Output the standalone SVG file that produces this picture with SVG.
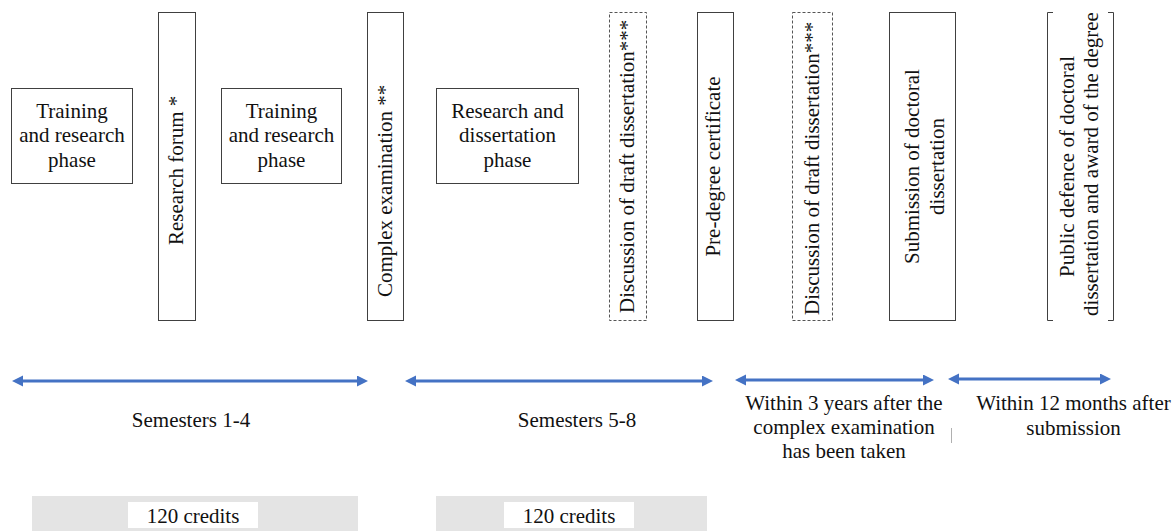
<svg xmlns="http://www.w3.org/2000/svg" width="1174" height="531" viewBox="0 0 1174 531">
  <style>
    .t { font-family: "Liberation Serif", "Times New Roman", serif; font-size: 21px; fill: #111; }
    .box { fill: #fff; stroke: #404040; stroke-width: 1; }
    .dbox { fill: #fff; stroke: #555; stroke-width: 1; stroke-dasharray: 3 2; }
    .brk { fill: none; stroke: #404040; stroke-width: 1; }
    .arr { stroke: #4472C4; stroke-width: 3; fill: none; marker-start: url(#ah); marker-end: url(#ah); }
    .band { fill: #e4e4e4; }
    .lbl { fill: #fff; }
  </style>
  <defs>
    <marker id="ah" markerUnits="userSpaceOnUse" markerWidth="12" markerHeight="12" refX="3" refY="5.5" orient="auto-start-reverse">
      <path d="M0,0 L11,5.5 L0,11 z" fill="#4472C4"/>
    </marker>
  </defs>

  <g id="n1">
    <rect class="box" x="11.5" y="88.5" width="121" height="95"/>
    <text class="t" text-anchor="middle"><tspan x="72" y="118">Training</tspan><tspan x="72" y="142">and research</tspan><tspan x="72" y="167">phase</tspan></text>
  </g>
  <g id="n2">
    <rect class="box" x="158.5" y="12.5" width="37" height="308"/>
    <text class="t" transform="translate(183,245) rotate(-90)">Research forum *</text>
  </g>
  <g id="n3">
    <rect class="box" x="221.5" y="88.5" width="120" height="95"/>
    <text class="t" text-anchor="middle"><tspan x="281.5" y="118">Training</tspan><tspan x="281.5" y="142">and research</tspan><tspan x="281.5" y="167">phase</tspan></text>
  </g>
  <g id="n4">
    <rect class="box" x="367.5" y="12.5" width="36" height="308"/>
    <text class="t" transform="translate(392,297) rotate(-90)">Complex examination **</text>
  </g>
  <g id="n5">
    <rect class="box" x="436.5" y="88.5" width="142" height="95"/>
    <text class="t" text-anchor="middle"><tspan x="507.5" y="118">Research and</tspan><tspan x="507.5" y="142">dissertation</tspan><tspan x="507.5" y="167">phase</tspan></text>
  </g>
  <g id="n6">
    <rect class="dbox" x="609.5" y="12.5" width="37" height="308"/>
    <text class="t" transform="translate(634,313) rotate(-90)">Discussion of draft dissertation***</text>
  </g>
  <g id="n7">
    <rect class="box" x="697.5" y="12.5" width="36" height="308"/>
    <text class="t" text-anchor="middle" transform="translate(720,166.5) rotate(-90)">Pre-degree certificate</text>
  </g>
  <g id="n8">
    <rect class="dbox" x="792.5" y="12.5" width="40" height="308"/>
    <text class="t" transform="translate(819,315) rotate(-90)">Discussion of draft dissertation***</text>
  </g>
  <g id="n9">
    <rect class="box" x="889.5" y="12.5" width="66" height="308"/>
    <text class="t" text-anchor="middle" transform="translate(919,166.5) rotate(-90)">Submission of doctoral</text>
    <text class="t" text-anchor="middle" transform="translate(944,166.5) rotate(-90)">dissertation</text>
  </g>
  <g id="n10">
    <path class="brk" d="M1053,12.5 H1047.5 V320.5 H1053 M1108,12.5 H1113.5 V320.5 H1108"/>
    <text class="t" text-anchor="middle" transform="translate(1074,166.5) rotate(-90)">Public defence of doctoral</text>
    <text class="t" text-anchor="middle" transform="translate(1098,164) rotate(-90)">dissertation and award of the degree</text>
  </g>

  <g id="connectors">
    <line class="arr" x1="20" y1="381" x2="360" y2="381"/>
    <line class="arr" x1="413" y1="381" x2="705" y2="381"/>
    <line class="arr" x1="743" y1="380" x2="926" y2="380"/>
    <line class="arr" x1="956" y1="379" x2="1103" y2="379"/>
  </g>

  <g id="labels">
    <text class="t" text-anchor="middle" x="191" y="427">Semesters 1-4</text>
    <text class="t" text-anchor="middle" x="577" y="427">Semesters 5-8</text>
    <text class="t" text-anchor="middle"><tspan x="844" y="410">Within 3 years after the</tspan><tspan x="844" y="434">complex examination</tspan><tspan x="844" y="458">has been taken</tspan></text>
    <text class="t" text-anchor="middle"><tspan x="1073.5" y="410">Within 12 months after</tspan><tspan x="1073.5" y="435">submission</tspan></text>
    <line x1="951.5" y1="428" x2="951.5" y2="443" stroke="#b0b0b0" stroke-width="1"/>
  </g>

  <g id="credits1">
    <rect class="band" x="32" y="496" width="326" height="35"/>
    <rect class="lbl" x="128" y="502" width="130" height="26"/>
    <text class="t" text-anchor="middle" x="193" y="523">120 credits</text>
  </g>
  <g id="credits2">
    <rect class="band" x="436" y="496" width="271" height="35"/>
    <rect class="lbl" x="504" y="502" width="130" height="26"/>
    <text class="t" text-anchor="middle" x="569" y="523">120 credits</text>
  </g>
</svg>
